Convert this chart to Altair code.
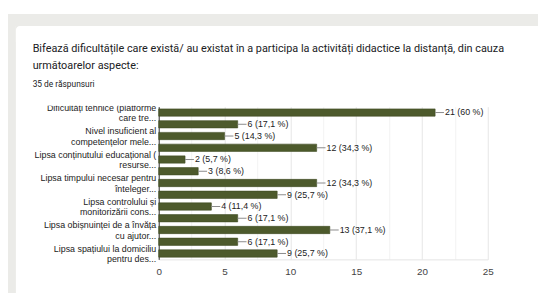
import altair as alt
import pandas as pd

# ---- data ----
categories = [
    "Dificultăți tehnice (platforme|care tre...",
    "Lipsa unui dispozitiv propriu",
    "Nivel insuficient al|competențelor mele...",
    "Conexiune slabă la internet",
    "Lipsa conținutului educațional (|resurse...",
    "Lipsa comunicării cu profesorii",
    "Lipsa timpului necesar pentru|înteleger...",
    "Lipsa motivației",
    "Lipsa controlului și|monitorizării cons...",
    "Oboseala",
    "Lipsa obișnuinței de a învăța|cu ajutor...",
    "Volumul mare de teme",
    "Lipsa spațiului la domiciliu|pentru des...",
]
counts = [21, 6, 5, 12, 2, 3, 12, 9, 4, 6, 13, 6, 9]
percents = ["60", "17,1", "14,3", "34,3", "5,7", "8,6", "34,3", "25,7",
            "11,4", "17,1", "37,1", "17,1", "25,7"]
x_ticks = [0, 2.5, 5, 7.5, 10, 12.5, 15, 17.5, 20, 22.5, 25]
title_lines = [
    "Bifează dificultățile care există/ au existat în a participa la activități didactice la distanță, din cauza",
    "următoarelor aspecte:",
]
subtitle = "35 de răspunsuri"

df = pd.DataFrame({
    "cat": categories,
    "n": counts,
    "label": [f"{n} ({p} %)" for n, p in zip(counts, percents)],
})

W, H = 334, 155
GRAY = "#ebebe8"
one = pd.DataFrame({"k": [0]})


def rect(x, y, x2, y2, color, r=0):
    return alt.Chart(one).mark_rect(color=color, cornerRadius=r).encode(
        x=alt.value(x), x2=alt.value(x2), y=alt.value(y), y2=alt.value(y2)
    )


def label(txt, x, y, size, color, font="Roboto"):
    return alt.Chart(one).mark_text(
        align="left", baseline="middle", font=font, fontSize=size, color=color
    ).encode(x=alt.value(x), y=alt.value(y), text=alt.value(txt))


deco = [
    rect(-153, -94, 400, -82, GRAY),
    rect(-153, -94, -145, 200, GRAY),
    rect(-145, -82, -137, -74, GRAY),
    rect(-145, -82, -125, -62, "white", 4),
    label(title_lines[0], -128, -58, 11, "#202124"),
    label(title_lines[1], -128, -41, 11, "#202124"),
    label(subtitle, -128, -23, 8.5, "#202124"),
    rect(-131, -12, -2, -1, "white"),
]

y_enc = alt.Y(
    "cat:N", sort=categories,
    scale=alt.Scale(paddingInner=0.38, paddingOuter=0.19),
    axis=alt.Axis(
        title=None,
        labelExpr="indexof(datum.value, '|') >= 0 ? split(datum.value, '|') : ''",
        labelFont="Liberation Sans", labelFontSize=9, labelColor="#222222",
        labelLineHeight=11, labelPadding=3, labelOffset=-5, ticks=False,
        domainColor="#333333", labelLimit=220, grid=False,
    ),
)
x_enc = alt.X(
    "n:Q",
    scale=alt.Scale(domain=[0, 25], nice=False),
    axis=alt.Axis(
        title=None, values=x_ticks,
        labelExpr="datum.value % 5 === 0 ? datum.label : ''",
        labelFont="Liberation Sans", labelFontSize=10, labelColor="#444444",
        ticks=False, domainColor="#e4e4e4", labelPadding=7,
        labelFlush=False, labelOverlap=False,
        gridColor={"condition": {"test": "datum.value % 5 === 0", "value": "#e6e6e6"},
                   "value": "#f3f3f3"},
    ),
)

base = alt.Chart(df).encode(y=y_enc, x=x_enc)
bars = base.mark_bar(color="#4d5a2c", stroke="#3f4a22", strokeWidth=0.6)
leaders = base.mark_rule(x2Offset=9, color="#8a8a8a", strokeWidth=1).encode(x2="n:Q")
texts = base.mark_text(
    align="left", baseline="middle", dx=10,
    font="Liberation Sans", fontSize=9, color="#222222",
).encode(text="label:N")

chart = alt.layer(*deco, bars, leaders, texts).properties(
    width=W, height=H,
    autosize=alt.AutoSizeParams(type="none"),
    padding={"left": 153, "top": 98, "right": 51, "bottom": 32},
    background="white",
).configure_view(stroke=None)

chart.save("out.html", embed_options={"renderer": "svg", "actions": False})
